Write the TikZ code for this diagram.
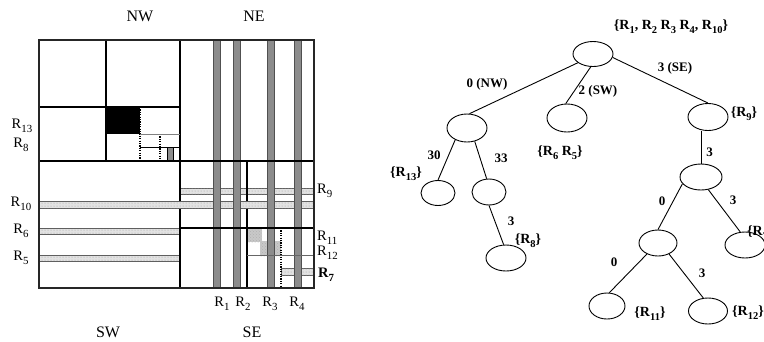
\documentclass[tikz,border=0pt]{standalone}
\usepackage{fontspec}
\setmainfont{Liberation Serif}
\usetikzlibrary{patterns,shapes.geometric}
\newcommand\rsub[1]{\raisebox{-0.6ex}{\scalebox{0.75}{#1}}}
\definecolor{vgray}{RGB}{140,140,140}
\definecolor{vedge}{RGB}{80,80,80}
\definecolor{hfill}{RGB}{226,226,226}
\definecolor{hedge}{RGB}{95,95,95}
\definecolor{cfill}{RGB}{200,200,200}
\begin{document}
\begin{tikzpicture}[x=1pt,y=-1pt,
  quadlbl/.style={font=\fontsize{16}{16}\selectfont, inner sep=0},
  rlbl/.style={font=\fontsize{14.5}{14.5}\selectfont, inner sep=0},
  hstrip/.style={draw=hedge, line width=1pt, fill=hfill, postaction={pattern=dots, pattern color=gray!75}},
  vstrip/.style={draw=vedge, line width=0.8pt, fill=vgray},
  cstrip/.style={fill=cfill, postaction={pattern=crosshatch dots, pattern color=gray!60}},
  thickline/.style={line width=2.3pt},
  midline/.style={line width=1.9pt},
  thinline/.style={line width=1pt},
  dotline/.style={line width=1.2pt, dash pattern=on 1.2pt off 1.2pt},
  tnode/.style={ellipse, draw, line width=0.9pt, inner sep=0, minimum width=40pt, minimum height=27pt},
  tedge/.style={line width=0.9pt},
  setlbl/.style={font=\bfseries\fontsize{14}{14}\selectfont, inner sep=0},
  elbl/.style={font=\bfseries\fontsize{13}{13}\selectfont, inner sep=0}]
\clip (0,0) rectangle (764,341);
\fill[white] (0,0) rectangle (764,341);

% ---------- left: the space partition ----------
% layer 1
\draw[hstrip] (180,188) rectangle (314,194);
\draw[hstrip] (39,228) rectangle (180,234);
\draw[hstrip] (39,255) rectangle (180,261);
\draw[hstrip] (281,268) rectangle (314,275);
\fill[cstrip] (247,228) rectangle (262,242);
\fill[cstrip] (260,241) rectangle (281,256);
\fill[black] (106,107) rectangle (140,134);
% layer 2: vertical lines
\draw[thickline] (180,40) -- (180,288);
\draw[midline] (106,40) -- (106,161);
\draw[midline] (247,161) -- (247,288);
\draw[dotline] (140,107) -- (140,161);
\draw[dotline] (160,134) -- (160,161);
\draw[dotline] (281,228) -- (281,288);
% layer 3
\draw[hstrip] (39,201) rectangle (314,208);
% layer 4: vertical strips
\draw[vstrip] (213,40) rectangle (220,288);
\draw[vstrip] (233,40) rectangle (240,288);
\draw[vstrip] (267,40) rectangle (274,288);
\draw[vstrip] (294,40) rectangle (301,288);
\draw[vstrip, draw=black] (167,147) rectangle (173,161);
% layer 5: horizontal lines
\draw[thickline] (39,161) -- (314,161);
\draw[midline] (39,107) -- (180,107);
\draw[midline] (180,228) -- (314,228);
\draw[thinline, draw=gray] (140,134) -- (180,134);
\draw[thinline] (140,147) -- (180,147);
\draw[thinline, draw=gray!80!black] (247,255) -- (314,255);
% outer border
\draw[line width=1.2pt, draw=black!85] (39,40) rectangle (314,288);

% quadrant labels
\node[quadlbl] (lNW) at (140,16) {NW};
\node[quadlbl] (lNE) at (254,16) {NE};
\node[quadlbl] (lSW) at (108,332) {SW};
\node[quadlbl] (lSE) at (252,332) {SE};
% rectangle labels
\node[rlbl] (l13) at (22,126) {R\rsub{13}};
\node[rlbl] (l8) at (21,145) {R\rsub{8}};
\node[rlbl] (l10) at (21,204) {R\rsub{10}};
\node[rlbl] (l6) at (21,231) {R\rsub{6}};
\node[rlbl] (l5) at (21,258) {R\rsub{5}};
\node[rlbl, anchor=west] (l9) at (317,191) {R\rsub{9}};
\node[rlbl, anchor=west] (l11) at (317,238) {R\rsub{11}};
\node[rlbl, anchor=west] (l12) at (317,253) {R\rsub{12}};
\node[rlbl, anchor=west, font=\bfseries\fontsize{14.5}{14.5}\selectfont] (l7) at (318,275) {R\rsub{7}};
\node[rlbl] (l1) at (222,304) {R\rsub{1}};
\node[rlbl] (l2) at (243,304) {R\rsub{2}};
\node[rlbl] (l3) at (270,304) {R\rsub{3}};
\node[rlbl] (l4) at (297,304) {R\rsub{4}};

% ---------- right: the tree ----------
\node[tnode, minimum height=25pt] (root) at (593,54) {};
\node[tnode, minimum height=28pt] (nNW) at (467,128) {};
\node[tnode, minimum height=28pt] (nSW) at (567,118) {};
\node[tnode] (nSE) at (708,117) {};
\node[tnode, minimum width=34pt, minimum height=25pt] (nA) at (438,193) {};
\node[tnode, minimum width=34pt, minimum height=26pt] (nB) at (489,192) {};
\node[tnode, minimum height=26pt] (nC) at (506,258) {};
\node[tnode, minimum width=42pt, minimum height=26pt] (nD) at (701,177) {};
\node[tnode, minimum width=38pt, minimum height=26pt] (nE) at (658,243) {};
\node[tnode, minimum height=26pt] (nF) at (745,245) {};
\node[tnode, minimum width=36pt, minimum height=26pt] (nG) at (607,306) {};
\node[tnode, minimum width=39pt, minimum height=26pt] (nH) at (708,311) {};

\draw[tedge] (root.210) -- (nNW.80);
\draw[tedge] (root.260) -- (nSW.95);
\draw[tedge] (root.-10) -- (nSE.90);
\draw[tedge] (nNW.225) -- (nA.90);
\draw[tedge] (nNW.-60) -- (nB.100);
\draw[tedge] (nB.270) -- (nC.100);
\draw[tedge] (nD.north) -- (nD.north |- nSE.south);
\draw[tedge] (nD.200) -- (nE.90);
\draw[tedge] (nD.-60) -- (nF.110);
\draw[tedge] (nE.225) -- (nG.80);
\draw[tedge] (nE.-45) -- (nH.110);

\node[setlbl] (sroot) at (671,27) {\{R\rsub{1}, R\rsub{2} R\rsub{3} R\rsub{4}, R\rsub{10}\}};
\node[setlbl] (s65) at (560,153) {\{R\rsub{6} R\rsub{5}\}};
\node[setlbl] (s9) at (744,114) {\{R\rsub{9}\}};
\node[setlbl] (s13) at (406,174) {\{R\rsub{13}\}};
\node[setlbl] (s8) at (528,241) {\{R\rsub{8}\}};
\node[setlbl, anchor=west] (s7) at (747,233) {\{R\rsub{7}\}};
\node[setlbl] (s11) at (650,314) {\{R\rsub{11}\}};
\node[setlbl] (s12) at (748,313) {\{R\rsub{12}\}};

\node[elbl] (e1) at (487,84) {0 (NW)};
\node[elbl] (e2) at (598,91) {2 (SW)};
\node[elbl] (e3) at (675,68) {3 (SE)};
\node[elbl] (e4) at (434,155) {30};
\node[elbl] (e5) at (501,158) {33};
\node[elbl] (e6) at (511,221) {3};
\node[elbl] (e7) at (709.5,152) {3};
\node[elbl] (e8) at (662,201) {0};
\node[elbl] (e9) at (733,200) {3};
\node[elbl] (e10) at (614,262) {0};
\node[elbl] (e11) at (702,273) {3};
\end{tikzpicture}
\end{document}
